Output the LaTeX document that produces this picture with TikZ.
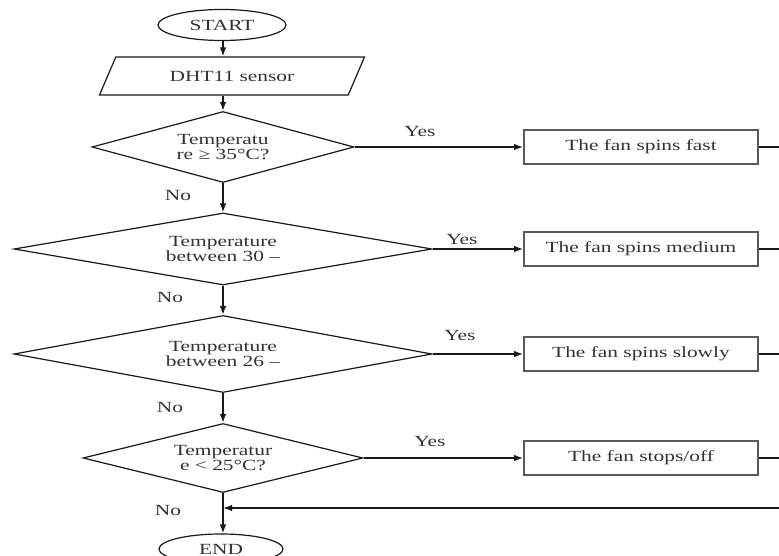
\documentclass[tikz,border=0pt]{standalone}
\usepackage{fontspec}
\setmainfont{Liberation Serif}[FakeStretch=1.38]
\usetikzlibrary{shapes.geometric,arrows.meta}
\definecolor{txt}{RGB}{50,50,50}
\definecolor{ln}{RGB}{25,25,25}
\definecolor{bx}{RGB}{90,90,90}
\begin{document}
\begin{tikzpicture}[x=1pt,y=-1pt,
  every node/.style={font=\fontsize{15.5}{14.5}\selectfont, text=txt},
  line/.style={draw=ln, line width=1.4pt},
  arr/.style={line, -{Latex[length=9pt,width=6.5pt]}},
  term/.style={ellipse, draw=ln, line width=1.2pt, inner sep=0pt},
  io/.style={trapezium, trapezium left angle=32.5, trapezium right angle=147.5,
    trapezium stretches body, draw=ln, line width=1.2pt, inner sep=0pt,
    minimum height=38pt, minimum width=265pt},
  dec/.style={diamond, draw=ln, line width=1.2pt, inner sep=0pt, align=center},
  act/.style={rectangle, draw=bx, line width=1.8pt, minimum width=234pt,
    minimum height=34pt, inner sep=0pt},
  lab/.style={inner sep=0pt}
]
\useasboundingbox (0,0) rectangle (779,556);
\clip (0,0) rectangle (779,556);

\node[term, minimum width=128pt, minimum height=31pt] (start) at (222,25) {START};
\node[io] (io) at (232,76) {DHT11 sensor};

\node[dec, aspect=3.7, minimum width=262pt, minimum height=71pt] (d1) at (223,147)
  {Temperatu\\re ≥ 35°C?};
\node[dec, aspect=5.8, minimum width=418pt, minimum height=72pt] (d2) at (223,249)
  {Temperature\\between 30 –};
\node[dec, aspect=5.4, minimum width=418pt, minimum height=77pt] (d3) at (223,354)
  {Temperature\\between 26 –};
\node[dec, aspect=4, minimum width=280pt, minimum height=69pt] (d4) at (223,458)
  {Temperatur\\e < 25°C?};

\node[term, minimum width=124pt, minimum height=30pt] (end) at (221,549) {END};

\node[act] (b1) at (641,147) {The fan spins fast};
\node[act] (b2) at (641,249) {The fan spins medium};
\node[act] (b3) at (641,354) {The fan spins slowly};
\node[act] (b4) at (641,458) {The fan stops/off};

\node[lab] (y1) at (420,132) {Yes};
\node[lab] (y2) at (462,240) {Yes};
\node[lab] (y3) at (460,336) {Yes};
\node[lab] (y4) at (430,441) {Yes};

\node[lab] (n1) at (178,196) {No};
\node[lab] (n2) at (170,298) {No};
\node[lab] (n3) at (170,407) {No};
\node[lab] (n4) at (168,510) {No};

\coordinate (r1) at (779,147);
\coordinate (r2) at (779,249);
\coordinate (r3) at (779,354);
\coordinate (r4) at (779,458);
\coordinate (ret) at (779,508);

\draw[arr] (start.south -| d1.north) -- (d1.north |- io.north);
\draw[arr] (io.south -| d1.north) -- (d1.north);
\draw[arr] (d1.south) -- (d2.north);
\draw[arr] (d2.south) -- (d3.north);
\draw[arr] (d3.south) -- (d4.north);
\draw[arr] (d4.south) -- (d4.south |- end.north);

\draw[arr] (d1.east) -- (b1.west);
\draw[arr] (d2.east) -- (b2.west);
\draw[arr] (d3.east) -- (b3.west);
\draw[arr] (d4.east) -- (b4.west);

\draw[line] (b1.east) -- (r1);
\draw[line] (b2.east) -- (r2);
\draw[line] (b3.east) -- (r3);
\draw[line] (b4.east) -- (r4);
\draw[arr] (ret) -- (ret -| d4.south);
\end{tikzpicture}
\end{document}
